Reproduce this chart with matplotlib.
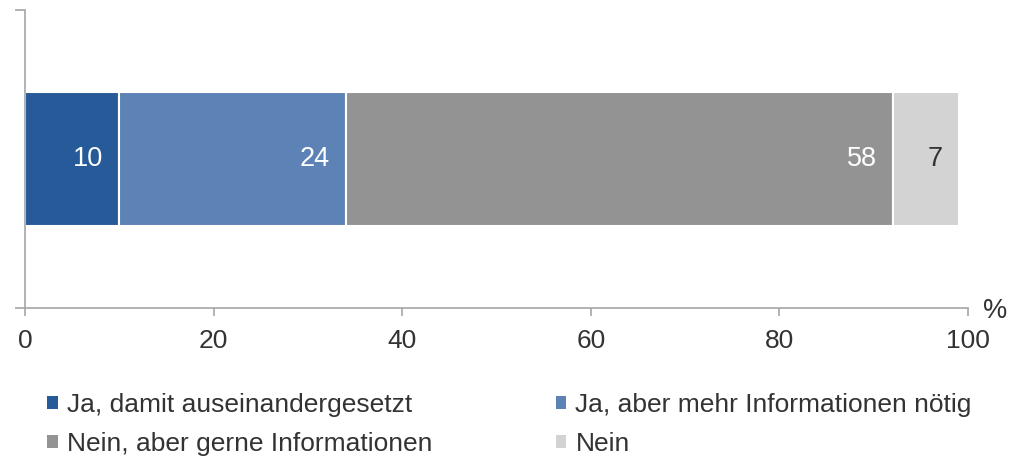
import matplotlib.pyplot as plt
from matplotlib.patches import Patch

plt.rcParams['font.family'] = ['Liberation Sans', 'DejaVu Sans']

categories = ["Ja, damit auseinandergesetzt",
              "Ja, aber mehr Informationen nötig",
              "Nein, aber gerne Informationen",
              "Nein"]
values = [10, 24, 58, 7]
colors = ["#265A99", "#5C82B6", "#939393", "#D3D3D3"]
label_colors = ["white", "white", "white", "#333333"]
xticks = [0, 20, 40, 60, 80, 100]

fig = plt.figure(figsize=(10.10, 4.58), dpi=100)
ax = fig.add_axes([25 / 1010, 1 - 308 / 458, 943 / 1010, 298 / 458])

axis_col = "#A6A6A6"
text_col = "#333333"
left = 0
for v, c, lc in zip(values, colors, label_colors):
    ax.barh(0.5, v, left=left, height=0.45, color=c, edgecolor="white",
            linewidth=1.5, zorder=2)
    ax.annotate(str(v), xy=(left + v, 0.5), xytext=(-16, 0),
                textcoords="offset pixels", ha="right", va="center",
                fontsize=19.5, color=lc, zorder=3)
    left += v

ax.set_xlim(0, 100)
ax.set_ylim(0, 1)
ax.set_xticks(xticks)
ax.set_xticklabels([str(t) for t in xticks])
ax.set_yticks([0, 1])
ax.set_yticklabels([])
ax.tick_params(axis="x", length=6, width=1.2, color=axis_col,
               labelsize=19, labelcolor=text_col, pad=9)
ax.tick_params(axis="y", length=7, width=1.2, color=axis_col)
for side in ("top", "right"):
    ax.spines[side].set_visible(False)
for side in ("left", "bottom"):
    ax.spines[side].set_color(axis_col)
    ax.spines[side].set_linewidth(1.2)

fig.text(995 / 1010, 1 - 311 / 458, "%", ha="center", va="center",
         fontsize=19.5, color=text_col)

handles = [Patch(facecolor=c, edgecolor="none") for c in colors]
order = [0, 2, 1, 3]
leg = fig.legend([handles[i] for i in order], [categories[i] for i in order],
                 ncol=2, loc="upper left", bbox_to_anchor=(47 / 1010, 1 - 393 / 458),
                 frameon=False, fontsize=19, handlelength=0.4,
                 handleheight=0.4, handletextpad=0.34, columnspacing=4.7,
                 labelspacing=0.57, borderpad=0, borderaxespad=0)
for t in leg.get_texts():
    t.set_color(text_col)

fig.savefig("out.png", dpi=100)
